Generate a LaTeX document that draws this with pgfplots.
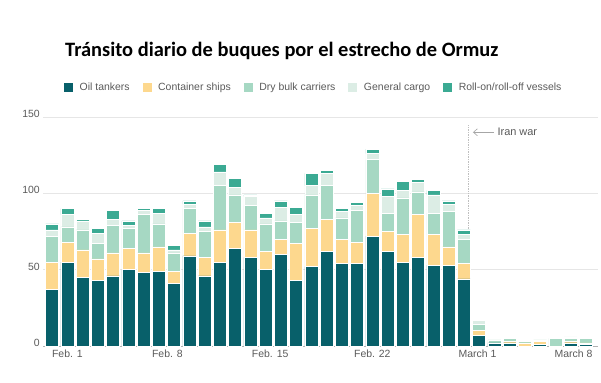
\documentclass[border=0pt]{standalone}
\usepackage{fontspec}
\setmainfont{Liberation Sans}
\newfontfamily\titlefont{Carlito}
\usepackage{pgfplots}
\pgfplotsset{compat=1.18}
\usepackage{pgfplotstable}
\usetikzlibrary{arrows.meta}
\definecolor{oilc}{RGB}{8,96,106}
\definecolor{contc}{RGB}{253,216,142}
\definecolor{dryc}{RGB}{166,216,195}
\definecolor{genc}{RGB}{220,237,229}
\definecolor{roroc}{RGB}{59,170,147}
\definecolor{txtc}{RGB}{90,90,90}
\definecolor{gridc}{RGB}{230,230,230}
\pgfplotsset{sqlegend/.style={legend image code/.code={\fill[##1] (0bp,-5bp) rectangle (10bp,5bp);}}}
\pgfplotstableread{
idx oil cont dry gen roro
0 37 18 17 4 4
1 55 13 10 8 4
2 45 18 13 6 1
3 43 14 10 7 3
4 46 15 18 4 6
5 50 14 13 2 3
6 48 13 25 3 1
7 49 16 15 7 3
8 41 8 12 2 3
9 59 15 16 3 2
10 46 12 17 3 4
11 55 21 29 9 5
12 64 17 18 5 6
13 58 18 16 6 1
14 50 12 18 4 3
15 60 10 12 9 4
16 43 24 14 5 5
17 52 25 22 6 8
18 62 21 22 8 2
19 54 16 14 4 2
20 54 14 21 3 2
21 72 28 22 4 3
22 62 13 12 11 5
23 55 18 24 5 6
24 58 28 15 6 2
25 53 20 14 12 3
26 53 12 23 5 2
27 44 10 16 3 3
28 7 3 4 3 0
29 2 0 2 0 0
30 2 1 2 0 0
31 0 2 1 0 0
32 1 2 1 0 0
33 0 0 5 0 0
34 2 1 2 1 0
35 1 1 3 0 0
}\shipdata
\begin{document}
\begin{tikzpicture}
\path[use as bounding box] (0,0) rectangle (601bp,383bp);
\node[anchor=base west, inner sep=0pt, font=\titlefont\bfseries\fontsize{20.5}{24}\selectfont] at (65bp,326bp) {Tránsito diario de buques por el estrecho de Ormuz};
\begin{axis}[
  at={(43bp,37bp)}, anchor=south west,
  width=555bp, height=229bp, scale only axis,
  ybar stacked, bar width=0.86,
  xmin=-0.6, xmax=35.8, ymin=0, ymax=150,
  axis y line*=left,
  y axis line style={draw=none},
  axis x line*=bottom,
  x axis line style={draw=gray!60, line width=0.6pt, -},
  ytick={0,50,100,150},
  ymajorgrids, grid style={gridc, line width=0.6pt},
  major tick length=0pt,
  xtick={1.0,7.56,14.3,21.0,27.9,34.2},
  xticklabels={Feb. 1,Feb. 8,Feb. 15,Feb. 22,March 1,March 8},
  ticklabel style={font=\fontsize{10.5}{12}\selectfont, text=txtc},
  yticklabel style={anchor=east, inner sep=0pt, xshift=-3bp, yshift=3bp},
  /pgf/number format/assume math mode=true,
  clip=false,
  sqlegend,
  legend columns=5,
  legend style={at={(0.036,1.131)}, anchor=west, draw=none, fill=none, inner sep=0pt,
    font=\fontsize{10.5}{12}\selectfont, text=txtc,
    nodes={inner sep=0pt},
    /tikz/every odd column/.append style={column sep=6bp},
    /tikz/every even column/.append style={column sep=12bp}},
]
\addplot[fill=oilc, draw=white, line width=0.5pt] table[x=idx,y=oil]{\shipdata};
\addlegendentry{Oil tankers}
\addplot[fill=contc, draw=white, line width=0.5pt] table[x=idx,y=cont]{\shipdata};
\addlegendentry{Container ships}
\addplot[fill=dryc, draw=white, line width=0.5pt] table[x=idx,y=dry]{\shipdata};
\addlegendentry{Dry bulk carriers}
\addplot[fill=genc, draw=white, line width=0.5pt] table[x=idx,y=gen]{\shipdata};
\addlegendentry{General cargo}
\addplot[fill=roroc, draw=white, line width=0.5pt] table[x=idx,y=roro]{\shipdata};
\addlegendentry{Roll-on/roll-off vessels}
\draw[gray!50, densely dotted, line width=0.7pt] (axis cs:27.3,0) -- (axis cs:27.3,145);
\draw[gray!70, line width=0.6pt, {Straight Barb[length=4bp,width=7bp]}-] (axis cs:27.6,140) -- (axis cs:29.0,140);
\node[anchor=west, inner sep=0pt, text=txtc, font=\fontsize{11}{13}\selectfont] at (axis cs:29.2,140.5) {Iran war};
\end{axis}
\end{tikzpicture}
\end{document}
